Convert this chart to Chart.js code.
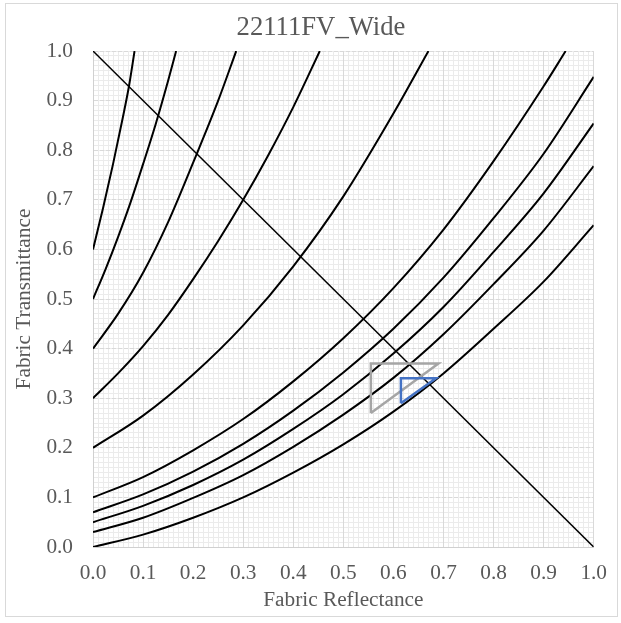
<!DOCTYPE html>
<html>
<head>
<meta charset="utf-8">
<script src="https://cdn.jsdelivr.net/npm/chart.js@4.4.0/dist/chart.umd.min.js"></script>
<style>
  html, body { margin: 0; padding: 0; background: #fff; }
  #wrap { position: relative; width: 621px; height: 623px; }
  #frame { position: absolute; left: 5px; top: 3px; width: 613px; height: 614px; border: 1px solid #d9d9d9; box-sizing: border-box; pointer-events: none; }
</style>
</head>
<body>
<div id="wrap">
  <canvas id="chart-1"></canvas>
  <div id="frame"></div>
</div>
<script>
// curves (x = fabric reflectance, y = fabric transmittance)
const refl = [0, 0.1, 0.2, 0.3, 0.4, 0.5, 0.6, 0.7, 0.8, 0.9, 1.0];
const trans00 = [0, 0.025, 0.059, 0.100, 0.150, 0.207, 0.273, 0.350, 0.440, 0.535, 0.649];
const trans03 = [0.03, 0.059, 0.099, 0.145, 0.202, 0.267, 0.341, 0.429, 0.530, 0.638, 0.768];
const trans05 = [0.05, 0.083, 0.125, 0.176, 0.238, 0.308, 0.390, 0.484, 0.595, 0.713, 0.854];
const trans07 = [0.07, 0.106, 0.152, 0.208, 0.275, 0.352, 0.440, 0.543, 0.663, 0.793, 0.948];

const refl10 = [0, 0.1, 0.2, 0.3, 0.4, 0.5, 0.6, 0.7, 0.8, 0.9, 0.944];
const trans10 = [0.1, 0.141, 0.195, 0.258, 0.334, 0.421, 0.522, 0.640, 0.778, 0.929, 1.0];

const refl20 = [0, 0.1, 0.2, 0.3, 0.4, 0.5, 0.6, 0.67];
const trans20 = [0.2, 0.265, 0.348, 0.447, 0.566, 0.707, 0.874, 1.0];

const refl30 = [0, 0.05, 0.1, 0.15, 0.2, 0.25, 0.3, 0.35, 0.4, 0.453];
const trans30 = [0.3, 0.35, 0.405, 0.468, 0.54, 0.617, 0.70, 0.79, 0.887, 1.0];

const refl40 = [0, 0.05, 0.1, 0.15, 0.2, 0.25, 0.286];
const trans40 = [0.4, 0.47, 0.553, 0.655, 0.775, 0.9, 1.0];

const refl50 = [0, 0.025, 0.05, 0.075, 0.1, 0.125, 0.15, 0.166];
const trans50 = [0.5, 0.56, 0.625, 0.695, 0.772, 0.852, 0.94, 1.0];

const refl60 = [0, 0.02, 0.04, 0.06, 0.072, 0.083];
const trans60 = [0.6, 0.683, 0.772, 0.868, 0.93, 1.0];

const diagRefl = [0, 1];
const diagTrans = [1, 0];

const greyRefl = [0.555, 0.555, 0.69, 0.555];
const greyTrans = [0.27, 0.37, 0.37, 0.27];

const blueRefl = [0.615, 0.615, 0.685, 0.615];
const blueTrans = [0.29, 0.34, 0.34, 0.29];

const textColor = '#595959';
const serif = 'Liberation Serif';

const pts = (xs, ys) => xs.map((x, i) => ({x: x, y: ys[i]}));

function curve(xs, ys) {
    return {
        data: pts(xs, ys),
        borderColor: '#000000',
        borderWidth: 2,
        showLine: true,
        pointRadius: 0,
        cubicInterpolationMode: 'monotone',
        fill: false,
    };
}

// Excel centres the title on the whole chart, chart.js on the padded box
const titleShift = {
    id: 'titleShift',
    afterLayout(chart) {
        const t = chart.titleBlock;
        if (t) { t.left += 23; t.right += 23; }
    }
};

const ctx1 = document.getElementById("chart-1").getContext("2d");
const myChart = new Chart(ctx1, {
    type: 'scatter',
    data: {
        datasets: [
            { data: pts(blueRefl, blueTrans), borderColor: '#4472c4', borderWidth: 2.5, showLine: true, pointRadius: 0, tension: 0 },
            { data: pts(greyRefl, greyTrans), borderColor: '#a5a5a5', borderWidth: 2.5, showLine: true, pointRadius: 0, tension: 0 },
            { data: pts(diagRefl, diagTrans), borderColor: '#000000', borderWidth: 1.5, showLine: true, pointRadius: 0 },
            curve(refl60, trans60),
            curve(refl50, trans50),
            curve(refl40, trans40),
            curve(refl30, trans30),
            curve(refl20, trans20),
            curve(refl10, trans10),
            curve(refl, trans07),
            curve(refl, trans05),
            curve(refl, trans03),
            curve(refl, trans00),
        ],
    },
    options: {
        responsive: true,
        maintainAspectRatio: false,
        animation: false,
        layout: { padding: { left: 0, right: 25, top: 0, bottom: 0 } },
        plugins: {
            legend: { display: false },
            tooltip: { enabled: false },
            title: {
                display: true,
                text: '22111FV_Wide',
                color: textColor,
                font: { family: serif, size: 26.7, weight: 'normal' },
                padding: { top: 12, bottom: 7 },
            },
        },
        scales: {
            x: {
                type: 'linear', min: 0, max: 1,
                ticks: { stepSize: 0.1, padding: 14, color: textColor, font: { family: serif, size: 21.3 }, callback: v => v.toFixed(1) },
                grid: { color: '#d9d9d9', drawTicks: false },
                border: { color: '#d0d0d0' },
                title: { display: true, text: 'Fabric Reflectance', color: textColor, font: { family: serif, size: 21.3 }, padding: { top: 0, bottom: 10 } },
                afterFit: s => { s.height = 76; },
            },
            y: {
                type: 'linear', min: 0, max: 1,
                ticks: { stepSize: 0.1, padding: 20, color: textColor, font: { family: serif, size: 21.3 }, callback: v => v.toFixed(1) },
                grid: { color: '#d9d9d9', drawTicks: false },
                border: { color: '#d0d0d0', dash: [4, 2] },
                title: { display: true, text: 'Fabric Transmittance', color: textColor, font: { family: serif, size: 21.3 }, padding: { top: 12, bottom: 0 } },
                afterFit: s => { s.width = 93; },
            },
            xm: {
                type: 'linear', axis: 'x', position: 'bottom', min: 0, max: 1,
                ticks: { display: false, stepSize: 0.01, maxTicksLimit: 200 },
                grid: { color: '#ebebeb', drawTicks: false, z: -2 },
                border: { display: false },
                afterFit: s => { s.height = 0; },
            },
            ym: {
                type: 'linear', axis: 'y', position: 'left', min: 0, max: 1,
                ticks: { display: false, stepSize: 0.01, maxTicksLimit: 200 },
                grid: { color: '#ebebeb', drawTicks: false, z: -2 },
                border: { display: false },
                afterFit: s => { s.width = 0; },
            },
        },
    },
    plugins: [titleShift],
});
</script>
</body>
</html>
